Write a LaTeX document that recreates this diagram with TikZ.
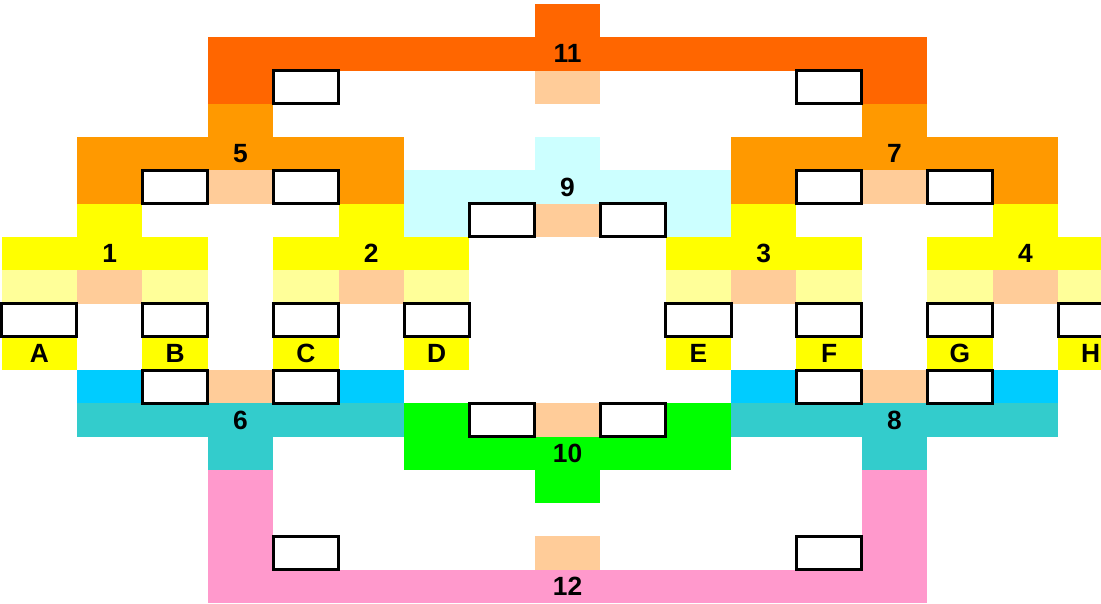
\documentclass[tikz,border=0pt]{standalone}
\usepackage{fontspec}
\setmainfont{Liberation Sans}
\usetikzlibrary{positioning}
\definecolor{mergered}{HTML}{FF6600}
\definecolor{mergeorange}{HTML}{FF9900}
\definecolor{mergeice}{HTML}{CCFFFF}
\definecolor{mergeyellow}{HTML}{FFFF00}
\definecolor{mergepale}{HTML}{FFFF99}
\definecolor{mergepeach}{HTML}{FFCC99}
\definecolor{mergesky}{HTML}{00CCFF}
\definecolor{mergeteal}{HTML}{33CCCC}
\definecolor{mergegreen}{HTML}{00FF00}
\definecolor{mergepink}{HTML}{FF99CC}

\begin{document}
\begin{tikzpicture}[x=1.962cm,y=0.9984cm,
    slot/.style={draw=black, line width=0.09cm, fill=white, minimum width=1.962cm,
      minimum height=0.9984cm, inner sep=0pt, outer sep=0pt},
    tag/.style={font=\fontsize{22.5}{24}\selectfont\bfseries, inner sep=0pt}]
        \useasboundingbox (-0.177,0.12) rectangle (16.657,-18.0);
        % 11 on top
        \fill[mergered] (8,0) rectangle (9,-1);
        \fill[mergered] (3,-1) rectangle (14,-2);
        \fill[mergered] (3,-2) rectangle (4,-3);
        \fill[mergered] (13,-2) rectangle (14,-3);
        % 5 and 7
        \foreach \m in {3,13} {
          \fill[mergeorange] (\m,-3) rectangle (\m+1,-4);
          \fill[mergeorange] (\m-2,-4) rectangle (\m+3,-5);
          \fill[mergeorange] (\m-2,-5) rectangle (\m-1,-6);
          \fill[mergeorange] (\m+2,-5) rectangle (\m+3,-6);
        }
        % 9
        \fill[mergeice] (8,-4) rectangle (9,-5);
        \fill[mergeice] (6,-5) rectangle (11,-6);
        \fill[mergeice] (6,-6) rectangle (7,-7);
        \fill[mergeice] (10,-6) rectangle (11,-7);
        % 1 to 4
        \foreach \m in {5,11,15} {
          \fill[mergeyellow] (\m,-6) rectangle (\m+1,-7);
          \fill[mergeyellow] (\m-1,-7) rectangle (\m+2,-8);
        }
        \fill[mergeyellow] (1,-6) rectangle (2,-7);
        \fill[mergeyellow] (-0.147,-7) rectangle (3,-8);
        \foreach \c in {2,4,6,10,12,14,16} {
          \fill[mergepale] (\c,-8) rectangle (\c+1,-9);
          \fill[mergeyellow] (\c,-10) rectangle (\c+1,-11);
        }
        \fill[mergepale] (-0.147,-8) rectangle (1,-9);
        \fill[mergeyellow] (-0.147,-10) rectangle (1,-11);
        % 6 and 8
        \foreach \m in {3,13} {
          \fill[mergesky] (\m-2,-11) rectangle (\m-1,-12);
          \fill[mergesky] (\m+2,-11) rectangle (\m+3,-12);
          \fill[mergeteal] (\m-2,-12) rectangle (\m+3,-13);
          \fill[mergeteal] (\m,-13) rectangle (\m+1,-14);
        }
        % 10
        \fill[mergegreen] (6,-12) rectangle (7,-13);
        \fill[mergegreen] (10,-12) rectangle (11,-13);
        \fill[mergegreen] (6,-13) rectangle (11,-14);
        \fill[mergegreen] (8,-14) rectangle (9,-15);
        % 12 at the bottom
        \fill[mergepink] (3,-14) rectangle (4,-17);
        \fill[mergepink] (13,-14) rectangle (14,-17);
        \fill[mergepink] (3,-17) rectangle (14,-18);
        % peach cells
        \foreach \c/\r in {8/2,3/5,13/5,8/6,1/8,5/8,11/8,15/8,3/11,13/11,8/12,8/16} {
          \fill[mergepeach] (\c,-\r) rectangle (\c+1,-\r-1);
        }
        % empty slots
        \foreach \c/\r in {4/2,12/2,2/5,4/5,12/5,14/5,7/6,9/6,2/9,4/9,6/9,10/9,12/9,14/9,16/9,
                           2/11,4/11,12/11,14/11,7/12,9/12,4/16,12/16} {
          \node[slot] (box-\c-\r) at (\c+0.5,-\r-0.5) {};
        }
        \node[slot, minimum width=2.25cm] (box-0-9) at (0.4266,-9.5) {};
        % numbers
        \foreach \c/\r/\t in {8/1/11,3/4/5,13/4/7,8/5/9,1/7/1,5/7/2,11/7/3,15/7/4,
                              3/12/6,13/12/8,8/13/10,8/17/12} {
          \node[tag] (num-\t) at (\c+0.5,-\r-0.5) {\t};
        }
        % letters
        \node[tag] (let-A) at (0.4266,-10.5) {A};
        \foreach \c/\t in {2/B,4/C,6/D,10/E,12/F,14/G,16/H} {
          \node[tag] (let-\t) at (\c+0.5,-10.5) {\t};
        }
      \end{tikzpicture}
\end{document}
